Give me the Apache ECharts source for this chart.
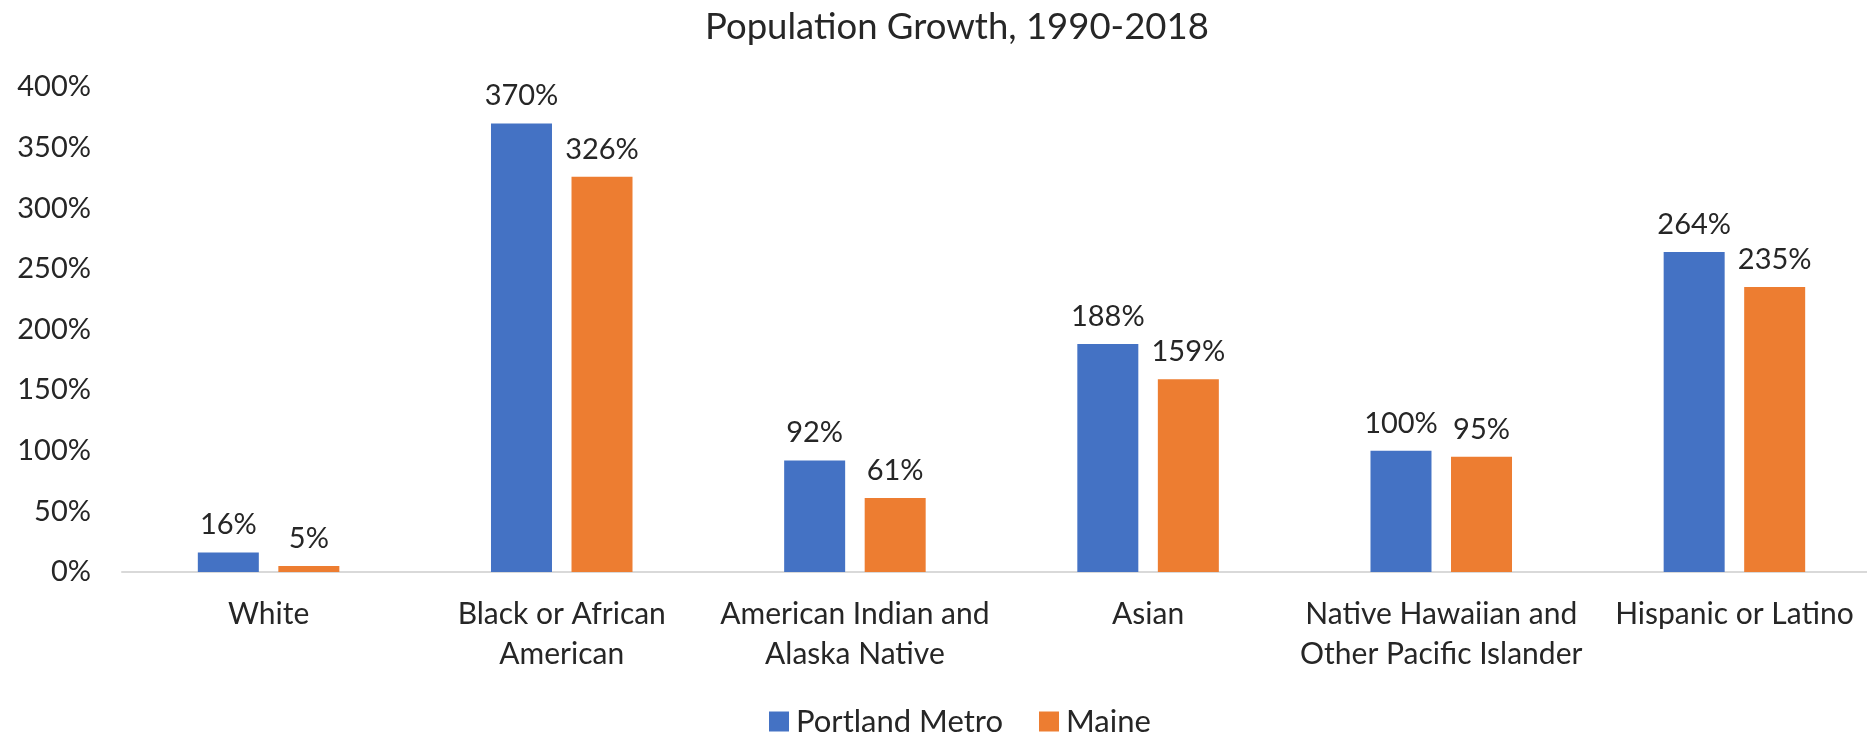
<!DOCTYPE html>
<html>
<head>
<meta charset="utf-8">
<script src="https://cdn.jsdelivr.net/npm/echarts@6/dist/echarts.min.js"></script>
<style>
  html, body { margin: 0; padding: 0; background: #fff; }
  #main { width: 1867px; height: 736px; }
</style>
</head>
<body>
<div id="main"></div>
<script>
// categories and values
var categories = [
  'White',
  'Black or African\nAmerican',
  'American Indian and\nAlaska Native',
  'Asian',
  'Native Hawaiian and\nOther Pacific Islander',
  'Hispanic or Latino'
];
var portlandMetro = [16, 370, 92, 188, 100, 264];
var maine = [5, 326, 61, 159, 95, 235];
var yTicks = [0, 50, 100, 150, 200, 250, 300, 350, 400];

var font = 'Lato, "Open Sans", sans-serif';
var textColor = '#262626';

var myChart = echarts.init(document.getElementById('main'));

function barLabel() {
  return {
    show: true,
    position: 'top',
    distance: 13,
    formatter: '{c}%',
    fontFamily: font,
    fontSize: 29,
    color: textColor
  };
}

myChart.setOption({
  animation: false,
  color: ['#4472C4', '#ED7D31'],
  title: {
    // zero-width non-joiner keeps Lato from using its "ti" ligature
    text: 'Popula\u200Ction Growth, 1990-2018',
    left: 700,
    top: 4,
    textStyle: { fontFamily: font, fontSize: 36.5, fontWeight: 'normal', color: textColor }
  },
  legend: {
    data: ['Portland Metro', 'Maine'],
    top: 701,
    left: 764,
    itemWidth: 20,
    itemHeight: 20,
    itemGap: 36,
    icon: 'rect',
    textStyle: { fontFamily: font, fontSize: 31, color: textColor, padding: [0, 0, 0, 2] }
  },
  grid: {
    left: 122,
    top: 87,
    width: 1759,
    height: 485,
    outerBoundsMode: 'none'
  },
  xAxis: {
    type: 'category',
    data: categories,
    axisLine: { lineStyle: { color: '#D9D9D9', width: 2 } },
    axisTick: { show: false },
    axisLabel: {
      interval: 0,
      margin: 22,
      lineHeight: 40,
      fontFamily: font,
      fontSize: 30,
      color: textColor
    }
  },
  yAxis: {
    type: 'value',
    min: yTicks[0],
    max: yTicks[yTicks.length - 1],
    interval: 50,
    splitLine: { show: false },
    axisLine: { show: false },
    axisTick: { show: false },
    axisLabel: {
      margin: 31,
      formatter: '{value}%',
      fontFamily: font,
      fontSize: 29,
      color: textColor
    }
  },
  series: [
    {
      name: 'Portland Metro',
      type: 'bar',
      data: portlandMetro,
      barWidth: 61,
      barGap: '32%',
      label: barLabel()
    },
    {
      name: 'Maine',
      type: 'bar',
      data: maine,
      barWidth: 61,
      barGap: '32%',
      label: barLabel()
    }
  ]
});
</script>
</body>
</html>
